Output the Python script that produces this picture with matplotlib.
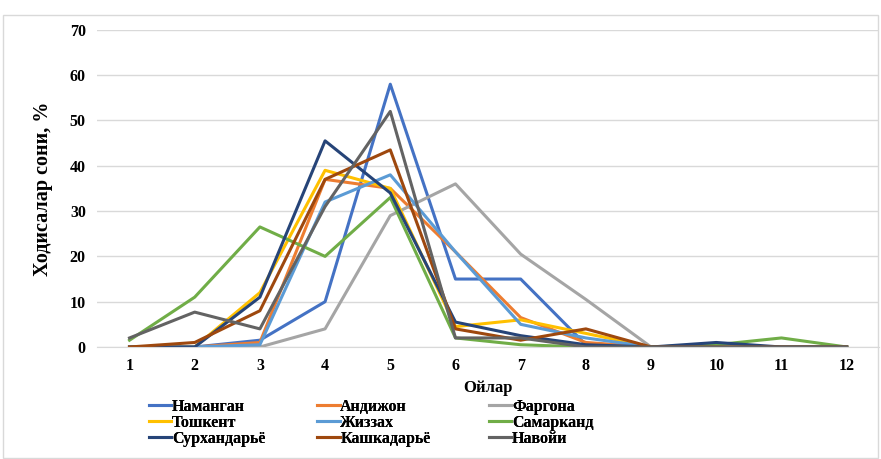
import matplotlib.pyplot as plt
from matplotlib.patches import Rectangle

months = list(range(1, 13))

namangan = [0, 0, 1.5, 10, 58, 15, 15, 0.5, 0, 0, 0, 0]
andijon = [0, 0, 1, 37, 35, 21, 6.5, 1, 0, 0, 0, 0]
fargona = [0, 0, 0, 4, 29, 36, 20.5, 10.5, 0, 0, 0, 0]
toshkent = [0, 0, 12, 39, 35, 4.5, 6, 3, 0, 0.5, 0, 0]
jizzax = [0, 0, 0.5, 32, 38, 21, 5, 2, 0, 0, 0, 0]
samarqand = [1.5, 11, 26.5, 20, 33, 2, 0.5, 0, 0, 0.5, 2, 0]
surxondaryo = [0, 0, 11, 45.5, 34, 5.5, 2.5, 0.5, 0, 1, 0, 0]
qashqadaryo = [0, 1, 8, 37, 43.5, 4, 1.5, 4, 0, 0, 0, 0]
navoiy = [2, 7.7, 4, 31, 52, 2, 2, 0, 0, 0, 0, 0]

series = [
    ("Наманган", namangan, "#4472C4"),
    ("Андижон", andijon, "#ED7D31"),
    ("Фаргона", fargona, "#A5A5A5"),
    ("Тошкент", toshkent, "#FFC000"),
    ("Жиззах", jizzax, "#5B9BD5"),
    ("Самарканд", samarqand, "#70AD47"),
    ("Сурхандарьё", surxondaryo, "#264478"),
    ("Кашкадарьё", qashqadaryo, "#9E480E"),
    ("Навойи", navoiy, "#636363"),
]

plt.rcParams['font.family'] = ['Liberation Serif', 'DejaVu Serif']
plt.rcParams['font.weight'] = 'bold'

fig = plt.figure(figsize=(8.81, 4.59), dpi=100)
ax = fig.add_axes([0.110, 0.244, 0.888, 0.691])

# light frame around the whole chart
fig.patches.append(Rectangle((0.003, 0.003), 0.994, 0.965, transform=fig.transFigure,
                             fill=False, ec="#d9d9d9", lw=1))

lines = []
for name, vals, color in series:
    ln, = ax.plot(months, vals, color=color, lw=2.2, label=name)
    lines.append(ln)

ax.set_xlim(0.5, 12.5)
ax.set_ylim(0, 70)
ax.set_xticks(months)
ax.set_yticks(range(0, 71, 10))
ax.tick_params(axis="both", length=0, labelsize=11.5, pad=8)
for lab in ax.get_xticklabels() + ax.get_yticklabels():
    lab.set_fontweight("bold")

ax.grid(axis="y", color="#d9d9d9", lw=1)
ax.set_axisbelow(True)
for s in ["top", "right", "left"]:
    ax.spines[s].set_visible(False)
ax.spines["bottom"].set_color("#d9d9d9")

ax.set_ylabel("Ходисалар сони, %", fontsize=14.5, fontweight="bold", labelpad=12)
ax.set_xlabel("Ойлар", fontsize=12, fontweight="bold", labelpad=4)

# three legend columns of equal width, rows read left to right
col_x = [0.169, 0.360, 0.555]
for c, x0 in enumerate(col_x):
    idx = [c, c + 3, c + 6]
    leg = fig.legend([lines[i] for i in idx], [series[i][0] for i in idx],
                     loc="upper left", bbox_to_anchor=(x0, 0.131), ncol=1,
                     frameon=False, handlelength=1.4, handletextpad=0.05,
                     labelspacing=0.0, borderpad=0, borderaxespad=0,
                     prop={"weight": "bold", "size": 11.5})
    fig.add_artist(leg)

fig.savefig("out.png", dpi=100)
